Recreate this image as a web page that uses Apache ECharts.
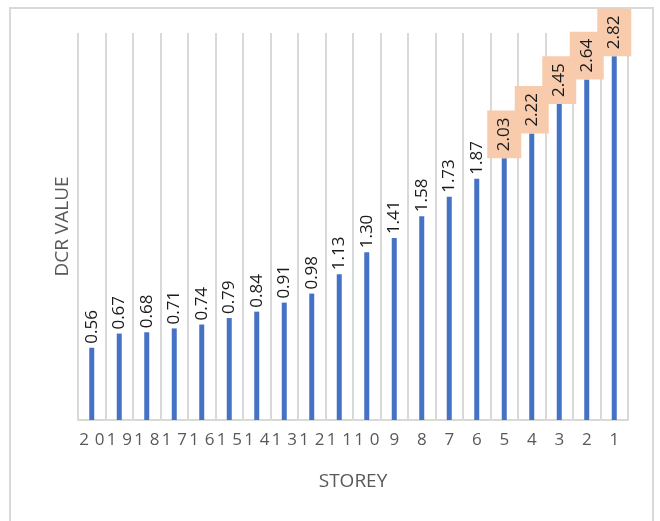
<!DOCTYPE html>
<html>
<head>
<meta charset="utf-8">
<script src="https://cdn.jsdelivr.net/npm/echarts@6/dist/echarts.min.js"></script>
<style>
html,body{margin:0;padding:0;background:#fff;}
#chart{width:660px;height:521px;}
</style>
</head>
<body>
<div id="chart"></div>
<script>
const storeys = ['20','19','18','17','16','15','14','13','12','11','10','9','8','7','6','5','4','3','2','1'];
const dcrValues = [0.56,0.67,0.68,0.71,0.74,0.79,0.84,0.91,0.98,1.13,1.30,1.41,1.58,1.73,1.87,2.03,2.22,2.45,2.64,2.82];
const highlightedStoreys = ['5','4','3','2','1'];
const xTitle = 'STOREY';
const yTitle = 'DCR VALUE';

const FONT = '"Open Sans", "Noto Sans", sans-serif';

const seriesData = dcrValues.map((v, i) => {
  const hl = highlightedStoreys.indexOf(storeys[i]) >= 0;
  return {
    value: v,
    label: hl ? {
      backgroundColor: '#F8CBAD',
      padding: [7, 7, 7, 7],
      distance: 0
    } : { distance: 4 }
  };
});

const chart = echarts.init(document.getElementById('chart'), null, {renderer: 'canvas'});
chart.setOption({
  animation: false,
  backgroundColor: '#fff',
  grid: {left: 78, right: 32, top: 33, bottom: 101, containLabel: false},
  graphic: [{
    type: 'rect',
    shape: {x: 10, y: 8, width: 643, height: 530},
    style: {fill: 'none', stroke: '#D9D9D9', lineWidth: 2},
    silent: true
  }],
  xAxis: {
    type: 'category',
    data: storeys,
    name: xTitle,
    nameLocation: 'middle',
    nameGap: 52,
    nameTextStyle: {color: '#595959', fontSize: 19, fontFamily: FONT},
    axisLine: {show: true, lineStyle: {color: '#D9D9D9', width: 2}},
    axisTick: {show: false},
    splitLine: {show: true, lineStyle: {color: '#D9D9D9', width: 2}},
    axisLabel: {
      interval: 0,
      margin: 12,
      color: '#595959',
      fontSize: 17,
      fontFamily: FONT,
      formatter: function (v) {
        return v.split('').map(d => '{d|' + d + '}').join('');
      },
      rich: {
        d: {width: 15.5, align: 'center', color: '#595959', fontSize: 17, fontFamily: FONT}
      }
    }
  },
  yAxis: {
    type: 'value',
    min: 0,
    max: 3,
    name: yTitle,
    nameLocation: 'middle',
    nameGap: 6,
    nameTextStyle: {color: '#595959', fontSize: 19, fontFamily: FONT},
    axisLine: {show: false},
    axisTick: {show: false},
    axisLabel: {show: false},
    splitLine: {show: false}
  },
  series: [{
    type: 'bar',
    data: seriesData,
    barWidth: 5,
    itemStyle: {color: '#4472C4'},
    label: {
      show: true,
      position: 'top',
      rotate: 90,
      align: 'left',
      verticalAlign: 'middle',
      color: '#1a1a1a',
      fontSize: 17,
      lineHeight: 20,
      fontFamily: FONT,
      formatter: p => p.value.toFixed(2)
    }
  }]
});
</script>
</body>
</html>
